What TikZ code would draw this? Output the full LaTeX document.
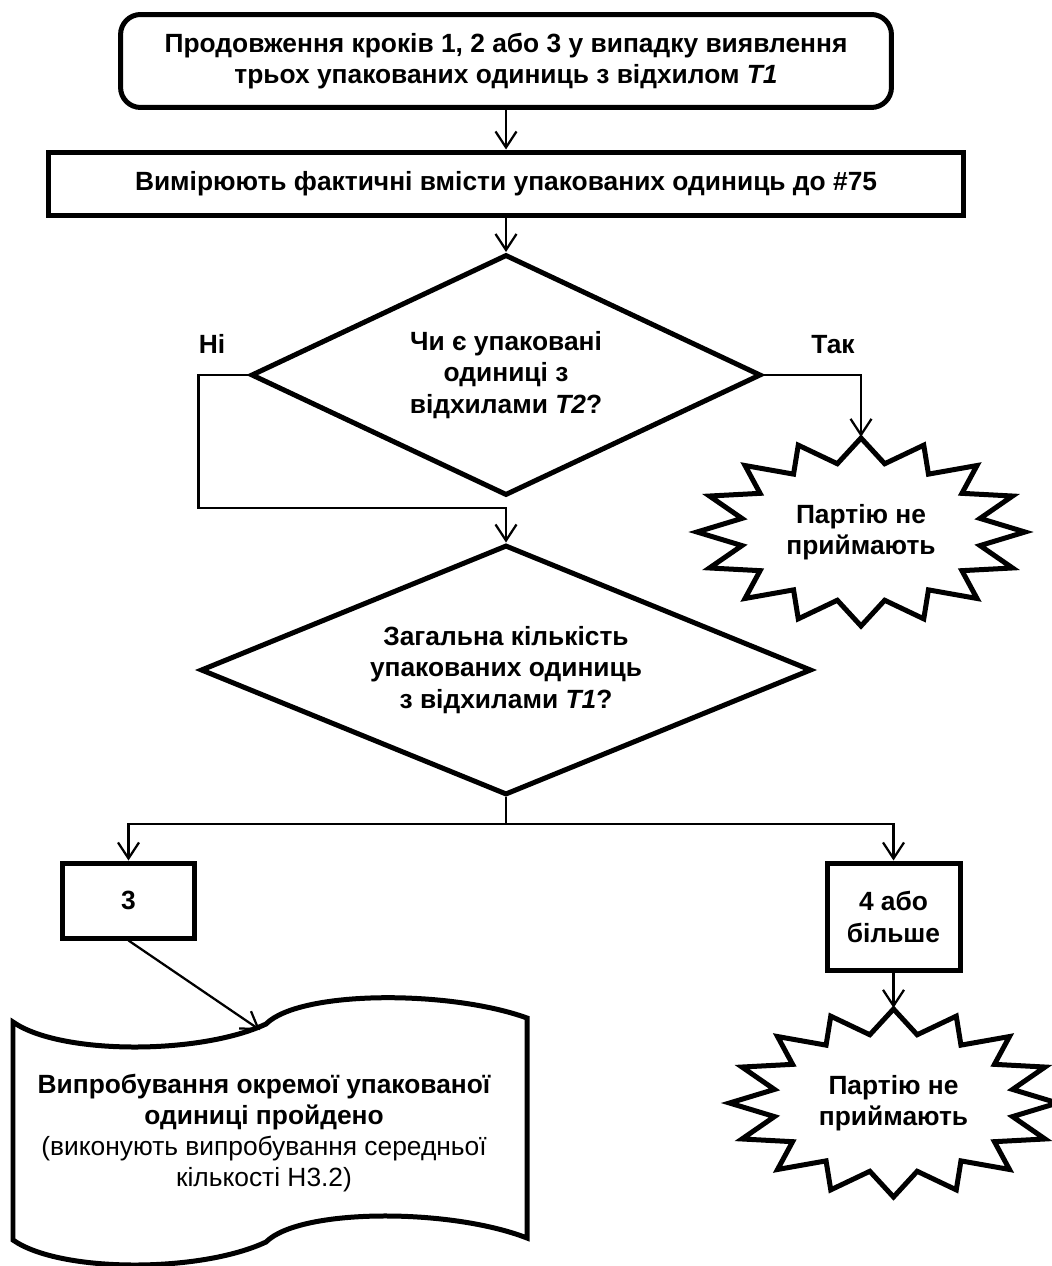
\documentclass[tikz,border=0pt]{standalone}
\usepackage{fontspec}
\setmainfont{Liberation Sans}
\usetikzlibrary{shapes.geometric, arrows.meta}

% sixteen-point burst round a node
\newcommand{\burst}[1]{%
  \draw [burst, shift = {(#1.center)}] (0:164 and 94)
    \foreach \k in {0,...,15}{
      -- ({22.5*\k + 11.25}:121.4 and 69.6) -- ({22.5*\k + 22.5}:164 and 94)} -- cycle;}

\begin{document}
\begin{tikzpicture}[x = 0.02cm, y = -0.02cm, line width = 0.045cm,
                        font = \fontsize{15}{17.8}\selectfont\bfseries,
                        box/.style = {rectangle, draw, line width = 0.1cm, align = center, inner sep = 0pt},
                        startbox/.style = {box, rounded corners = 0.4cm, minimum width = 15.42cm, minimum height = 1.86cm},
                        ask/.style = {diamond, draw, line width = 0.1cm, align = center, inner sep = 0pt, aspect = 2},
                        burst/.style = {draw, line width = 0.1cm, line join = miter},
                        rejtext/.style = {align = center, inner sep = 0pt, minimum width = 6.56cm, minimum height = 3.76cm},
                        arrow/.style = {-{Straight Barb[length = 0.32cm, width = 0.42cm]}}]
      \useasboundingbox (0, 0) rectangle (1051, 1266);
      \node [startbox] (start) at (506, 61){Продовження кроків 1, 2 або 3 у випадку виявлення\\трьох упакованих одиниць з відхилом \textit{T1}};
      \node [box, minimum width = 18.3cm, minimum height = 1.28cm] (measure) at (506, 184){Вимірюють фактичні вмісти упакованих одиниць до \#75};
      \node [ask, minimum width = 10.2cm, minimum height = 4.82cm] (askT2) at (506, 375){Чи є упаковані\\одиниці з\\відхилами \textit{T2}?};
      \node [rejtext] (rejectA) at (861, 532){Партію не\\приймають};
      \node [ask, minimum width = 12.22cm, minimum height = 5cm] (askT1) at (506, 670){Загальна кількість\\упакованих одиниць\\з відхилами \textit{T1}?};
      \node [box, minimum width = 2.66cm, minimum height = 1.5cm] (three) at (128.5, 900.5){3};
      \node [box, minimum width = 2.66cm, minimum height = 2.16cm] (four) at (893.5, 917){4 або\\більше};
      \node [rejtext] (rejectB) at (893.5, 1103){Партію не\\приймають};
      \node [align = center] (passed) at (264, 1133){Випробування окремої упакованої\\одиниці пройдено\\\mdseries(виконують випробування середньої\\\mdseries кількості H3.2)};
      \node (no) at (212, 344){Ні};
      \node (yes) at (833, 345){Так};
      \burst{rejectA}
      \burst{rejectB}
      % punched tape outline
      \draw [line width = 0.1cm] (13, 1022) .. controls (60, 1055) and (200, 1055) .. (266, 1024)
            .. controls (300, 990) and (450, 990) .. (527, 1018) -- (527, 1238)
            .. controls (450, 1208) and (300, 1208) .. (266, 1242)
            .. controls (200, 1273) and (60, 1273) .. (13, 1240) -- cycle;
      \coordinate (merge) at (506, 508);
      \coordinate (split) at (506, 824);
      \coordinate (tapein) at (260, 1030);
      \draw [arrow] (start) -- (measure);
      \draw [arrow] (measure) -- (askT2);
      \draw [arrow] (askT2.east) -| (rejectA.north);
      \draw [arrow] (askT2.west) -- ++(-50, 0) |- (merge) -- (askT1.north);
      \draw (askT1.south) -- (split);
      \draw [arrow] (split) -| (three.north);
      \draw [arrow] (split) -| (four.north);
      \draw [arrow] (three.south) -- (tapein);
      \draw [arrow] (four) -- (rejectB.north);
    \end{tikzpicture}
\end{document}
